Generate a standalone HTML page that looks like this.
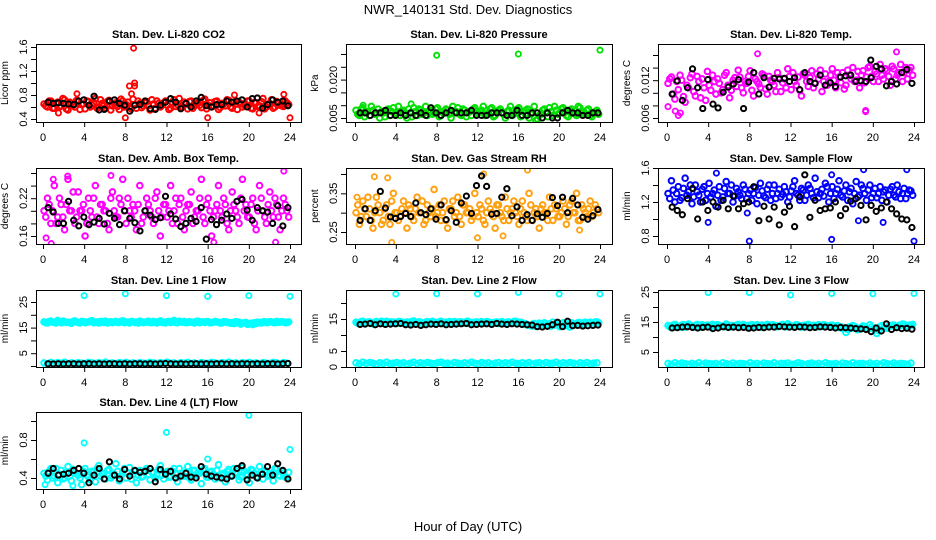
<!DOCTYPE html>
<html><head><meta charset="utf-8">
<style>
html,body{margin:0;padding:0;background:#fff;}
svg{display:block;font-family:"Liberation Sans",Arial,sans-serif;}
</style></head>
<body>
<svg id="chart" width="936" height="540" viewBox="0 0 936 540" xmlns="http://www.w3.org/2000/svg">
<rect x="0" y="0" width="936" height="540" fill="#fff"/>
<text x="468" y="14" text-anchor="middle" font-size="13">NWR_140131  Std. Dev. Diagnostics</text>
<text x="468" y="531" text-anchor="middle" font-size="13">Hour of Day (UTC)</text>
</svg>
<script>
// ---- data ----
const xTicks = [0,4,8,12,16,20,24];
const panelTitles = ["Stan. Dev. Li-820 CO2","Stan. Dev. Li-820 Pressure","Stan. Dev. Li-820 Temp.","Stan. Dev. Amb. Box Temp.","Stan. Dev. Gas Stream RH","Stan. Dev. Sample Flow","Stan. Dev. Line 1 Flow","Stan. Dev. Line 2 Flow","Stan. Dev. Line 3 Flow","Stan. Dev. Line 4 (LT) Flow"];
const yTitles = ["Licor ppm","kPa","degrees C","degrees C","percent","ml/min","ml/min","ml/min","ml/min","ml/min"];
const yTickVals = [[0.4,0.6,0.8,1.0,1.2,1.4,1.6],[0.005,0.010,0.015,0.020,0.025,0.030],[0.006,0.008,0.010,0.012,0.014,0.016],[0.16,0.18,0.20,0.22,0.24,0.26],[0.25,0.30,0.35,0.40],[0.8,1.0,1.2,1.4,1.6],[0,5,10,15,20,25],[0,5,10,15,20],[5,10,15,20,25],[0.4,0.6,0.8,1.0]];
const yTickLabels = [["0.4","0.8","1.2","1.6"],["0.005","0.020"],["0.006","0.012"],["0.16","0.22"],["0.25","0.35"],["0.8","1.2","1.6"],["5","15","25"],["0","5","15"],["5","15","25"],["0.4","0.8"]];
const yLabelVals = [[0.4,0.8,1.2,1.6],[0.005,0.020],[0.006,0.012],[0.16,0.22],[0.25,0.35],[0.8,1.2,1.6],[5,15,25],[0,5,15],[5,15,25],[0.4,0.8]];
const seriesColors = ["#ff0000","#00e000","#ff00ff","#ff00ff","#ffa010","#0000ff","#00ffff","#00ffff","#00ffff","#00ffff"];

const co2Main = [0.65,0.6,0.7,0.58,0.68,0.62,0.72,0.55,0.66,0.6,0.7,0.64,0.57,0.69,0.63,0.74,0.6,0.66,0.58,0.71,0.62,0.67,0.56,0.7,0.64,0.6,0.73,0.58,0.66,0.62,0.69,0.55,0.65,0.7,0.6,0.67,0.63,0.58,0.72,0.64,0.6,0.68,0.57,0.7,0.62,0.66,0.59,0.73,0.63,0.6,0.69,0.56,0.66,0.62,0.71,0.58,0.65,0.68,0.6,0.64,0.7,0.57,0.67,0.62,0.74,0.6,0.66,0.58,0.69,0.63,0.61,0.67];
const co2MainB = [0.62,0.7,0.58,0.66,0.6,0.74,0.57,0.68,0.63,0.71,0.56,0.65,0.7,0.6,0.67,0.58,0.72,0.62,0.69,0.55,0.66,0.61,0.73,0.6,0.68,0.57,0.64,0.7,0.59,0.67,0.62,0.72,0.58,0.66,0.63,0.7,0.56,0.68,0.61,0.74,0.6,0.65,0.69,0.58,0.66,0.63,0.71,0.57,0.67,0.62,0.7,0.59,0.65,0.72,0.6,0.68,0.56,0.66,0.63,0.7,0.58,0.67,0.61,0.69,0.57,0.65,0.72,0.6,0.66,0.62,0.7,0.64];
const co2Out = [[8,0.42],[8.6,0.82],[8.4,0.95],[8.9,1.0],[8.9,0.95],[8.8,1.58],[3.3,0.82],[16,0.42],[24,0.42],[21,0.5],[1.5,0.5],[23.4,0.81],[18.6,0.8]];
const co2Black = [0.68,0.66,0.67,0.66,0.65,0.64,0.7,0.72,0.63,0.78,0.55,0.56,0.7,0.72,0.66,0.63,0.53,0.63,0.64,0.7,0.57,0.56,0.63,0.68,0.74,0.68,0.57,0.66,0.6,0.7,0.76,0.62,0.6,0.64,0.64,0.7,0.68,0.7,0.72,0.6,0.74,0.75,0.58,0.64,0.72,0.68,0.7,0.62];

const presMain = [0.008,0.006,0.009,0.007,0.006,0.008,0.007,0.005,0.007,0.008,0.006,0.009,0.007,0.006,0.008,0.005,0.007,0.009,0.006,0.008,0.007,0.006,0.008,0.007,0.009,0.006,0.007,0.008,0.005,0.007,0.009,0.006,0.008,0.007,0.006,0.009,0.007,0.008,0.006,0.007,0.009,0.006,0.008,0.007,0.005,0.008,0.006,0.007,0.009,0.006,0.008,0.005,0.007,0.004,0.006,0.008,0.007,0.009,0.006,0.008,0.007,0.009,0.006,0.008,0.007,0.006,0.009,0.007,0.008,0.006,0.007,0.008];
const presMainB = [0.0065,0.0085,0.0055,0.0075,0.0095,0.0065,0.0085,0.0075,0.0055,0.0085,0.0075,0.0065,0.0095,0.0075,0.0065,0.0085,0.0055,0.0075,0.0085,0.0065,0.0095,0.0075,0.0065,0.0085,0.0055,0.0075,0.0085,0.0065,0.0095,0.0075,0.0065,0.0085,0.0055,0.0075,0.0085,0.0065,0.0075,0.0095,0.0065,0.0085,0.0055,0.0075,0.0085,0.0065,0.0075,0.0095,0.0065,0.0085,0.0055,0.0075,0.0085,0.0065,0.0095,0.0045,0.0065,0.0085,0.0055,0.0075,0.0095,0.0065,0.0085,0.0075,0.0055,0.0085,0.0065,0.0095,0.0075,0.0065,0.0085,0.0055,0.0075,0.0065];
const presOut = [[8,0.0295],[16,0.0300],[24,0.0315],[5.5,0.0105],[0.8,0.0100]];
const presBlack = [0.007,0.007,0.006,0.007,0.007,0.008,0.006,0.006,0.007,0.006,0.007,0.006,0.007,0.006,0.009,0.007,0.006,0.007,0.008,0.007,0.007,0.007,0.008,0.006,0.006,0.006,0.007,0.007,0.007,0.006,0.006,0.008,0.006,0.006,0.007,0.007,0.005,0.007,0.005,0.005,0.007,0.008,0.007,0.007,0.006,0.006,0.007,0.007];

const tempMain = [0.0115,0.0125,0.009,0.0105,0.012,0.0085,0.0108,0.013,0.0095,0.0118,0.0122,0.0088,0.0112,0.0128,0.0098,0.0115,0.0105,0.0132,0.0092,0.012,0.011,0.0125,0.01,0.0115,0.0135,0.0095,0.0118,0.0108,0.0128,0.0098,0.012,0.0112,0.0132,0.0102,0.0122,0.0138,0.0105,0.0118,0.0125,0.0095,0.0128,0.011,0.0135,0.0115,0.0122,0.0102,0.013,0.0118,0.0138,0.0108,0.0125,0.0132,0.0112,0.0128,0.014,0.012,0.0108,0.0135,0.0125,0.0142,0.0118,0.013,0.0145,0.0122,0.0135,0.0112,0.0138,0.0128,0.0145,0.0132,0.0122,0.014];
const tempMainB = [0.0122,0.0098,0.0118,0.0128,0.0094,0.0112,0.0124,0.0102,0.0126,0.0092,0.0108,0.0134,0.0104,0.0118,0.0122,0.01,0.0128,0.0112,0.0104,0.0124,0.0136,0.0108,0.0118,0.0126,0.0104,0.0122,0.0114,0.013,0.0106,0.0126,0.0118,0.0102,0.0124,0.0116,0.0108,0.0126,0.0132,0.0112,0.0104,0.013,0.0118,0.0124,0.0108,0.013,0.0136,0.0118,0.0112,0.0128,0.012,0.0132,0.0116,0.0106,0.0136,0.0122,0.0118,0.0134,0.0128,0.0116,0.014,0.0126,0.0134,0.0118,0.0128,0.0138,0.0126,0.0142,0.0122,0.0132,0.0118,0.014,0.0136,0.0128];
const tempOut = [[0.1,0.0078],[0.8,0.0071],[1.1,0.0064],[1.3,0.0068],[8.8,0.0162],[22.3,0.0165],[19.3,0.0072],[19.3,0.0070]];
const tempBlack = [0.0098,0.0119,0.0088,0.0108,0.0138,0.0108,0.0075,0.0121,0.0082,0.0076,0.0101,0.0109,0.0114,0.0121,0.0075,0.0117,0.0132,0.0098,0.0124,0.0109,0.0123,0.0122,0.0123,0.0118,0.0124,0.0105,0.0132,0.0118,0.0115,0.0128,0.0112,0.0116,0.011,0.0125,0.0127,0.0128,0.0118,0.0119,0.0118,0.0124,0.0142,0.0138,0.0111,0.0118,0.0114,0.0132,0.0137,0.0115];

const boxMain = [0.2,0.22,0.18,0.24,0.19,0.21,0.17,0.25,0.2,0.18,0.23,0.2,0.16,0.22,0.19,0.24,0.18,0.21,0.2,0.17,0.23,0.19,0.22,0.25,0.18,0.2,0.21,0.17,0.24,0.19,0.22,0.2,0.18,0.23,0.16,0.21,0.19,0.24,0.2,0.18,0.22,0.17,0.21,0.23,0.19,0.2,0.25,0.18,0.22,0.16,0.2,0.24,0.19,0.21,0.17,0.23,0.2,0.18,0.25,0.21,0.19,0.22,0.17,0.24,0.2,0.18,0.23,0.19,0.21,0.17,0.22,0.2];
const boxMainB = [0.19,0.21,0.2,0.18,0.22,0.19,0.21,0.2,0.23,0.19,0.2,0.21,0.18,0.2,0.22,0.19,0.21,0.2,0.18,0.22,0.2,0.19,0.21,0.2,0.22,0.19,0.2,0.21,0.18,0.2,0.21,0.19,0.22,0.2,0.19,0.21,0.2,0.18,0.22,0.21,0.19,0.2,0.21,0.18,0.2,0.22,0.19,0.21,0.2,0.19,0.21,0.2,0.22,0.18,0.2,0.21,0.19,0.22,0.2,0.19,0.21,0.18,0.2,0.22,0.19,0.21,0.2,0.22,0.19,0.2,0.21,0.19];
const boxOut = [[0.3,0.157],[1,0.25],[2.4,0.255],[6.6,0.256],[23.4,0.263],[0.8,0.148],[16.6,0.15],[22.6,0.15]];
const boxBlack = [0.205,0.198,0.18,0.18,0.215,0.185,0.176,0.19,0.178,0.182,0.188,0.179,0.196,0.188,0.178,0.2,0.188,0.181,0.168,0.2,0.193,0.186,0.189,0.223,0.195,0.187,0.175,0.18,0.188,0.183,0.205,0.155,0.186,0.178,0.185,0.195,0.188,0.215,0.218,0.201,0.185,0.205,0.2,0.198,0.18,0.208,0.176,0.205];

const rhMain = [0.3,0.27,0.33,0.29,0.31,0.26,0.34,0.3,0.28,0.32,0.27,0.35,0.3,0.29,0.33,0.26,0.31,0.28,0.34,0.3,0.27,0.32,0.29,0.36,0.3,0.28,0.33,0.26,0.31,0.29,0.34,0.27,0.32,0.3,0.28,0.35,0.29,0.31,0.27,0.33,0.3,0.26,0.32,0.29,0.34,0.28,0.31,0.3,0.27,0.33,0.29,0.35,0.28,0.31,0.26,0.32,0.3,0.34,0.28,0.31,0.29,0.33,0.27,0.32,0.3,0.35,0.28,0.31,0.29,0.33,0.3,0.31];
const rhMainB = [0.32,0.29,0.31,0.34,0.28,0.3,0.32,0.27,0.31,0.29,0.33,0.3,0.28,0.31,0.3,0.32,0.29,0.31,0.3,0.33,0.28,0.3,0.31,0.29,0.32,0.3,0.28,0.31,0.33,0.3,0.29,0.32,0.3,0.31,0.29,0.3,0.32,0.28,0.3,0.31,0.29,0.32,0.3,0.28,0.31,0.3,0.33,0.29,0.31,0.3,0.28,0.32,0.3,0.29,0.31,0.3,0.28,0.31,0.32,0.29,0.3,0.31,0.29,0.33,0.3,0.28,0.32,0.3,0.31,0.29,0.32,0.3];
const rhOut = [[1.9,0.393],[3.2,0.39],[3.6,0.223],[12.6,0.4],[16.9,0.41],[12,0.235],[14.5,0.24],[0.2,0.34],[22,0.255]];
const rhBlack = [0.28,0.31,0.28,0.305,0.355,0.312,0.289,0.285,0.29,0.298,0.29,0.325,0.3,0.295,0.31,0.283,0.32,0.282,0.305,0.275,0.325,0.343,0.298,0.37,0.395,0.368,0.296,0.298,0.34,0.362,0.292,0.315,0.28,0.295,0.28,0.297,0.288,0.298,0.339,0.318,0.34,0.3,0.337,0.32,0.288,0.283,0.292,0.308];

const flowMain = [1.3,1.45,1.2,1.38,1.25,1.48,1.32,1.18,1.4,1.28,1.35,1.22,1.42,1.3,1.15,1.38,1.26,1.44,1.3,1.2,1.36,1.28,1.4,1.24,1.34,1.3,1.18,1.42,1.27,1.35,1.22,1.4,1.3,1.26,1.38,1.2,1.33,1.45,1.28,1.36,1.22,1.4,1.3,1.48,1.25,1.35,1.42,1.2,1.38,1.3,1.45,1.26,1.4,1.32,1.18,1.44,1.28,1.36,1.22,1.4,1.3,1.25,1.38,1.32,1.2,1.35,1.28,1.4,1.24,1.36,1.3,1.33];
const flowMainB = [1.24,1.34,1.3,1.22,1.36,1.28,1.4,1.26,1.32,1.2,1.38,1.3,1.26,1.34,1.28,1.22,1.36,1.3,1.4,1.27,1.32,1.24,1.35,1.3,1.22,1.37,1.28,1.33,1.25,1.4,1.3,1.24,1.35,1.29,1.32,1.26,1.38,1.3,1.22,1.34,1.28,1.36,1.25,1.32,1.3,1.27,1.38,1.3,1.24,1.35,1.28,1.33,1.22,1.36,1.3,1.26,1.4,1.3,1.34,1.25,1.36,1.3,1.22,1.34,1.28,1.38,1.26,1.32,1.3,1.24,1.34,1.28];
const flowOut = [[8,0.74],[16,0.76],[24,0.74],[4,0.96],[21,0.96],[18.6,0.98],[23.3,1.58],[4.8,1.54],[16,1.52],[19.1,1.58],[7.8,1.07]];
const flowBlack = [1.14,1.1,1.05,1.24,1.36,1.0,1.2,1.1,1.2,1.14,1.22,1.12,1.27,1.12,1.18,1.2,1.38,0.98,1.15,1.0,1.14,0.93,1.08,1.15,0.91,1.26,1.52,1.02,1.22,1.1,1.12,1.13,1.2,1.04,1.12,1.21,1.24,1.16,0.99,1.16,1.09,1.13,1.2,1.12,1.06,1.0,0.99,0.9];

const l1High = [17.2,16.8,17.5,17.0,17.8,16.9,17.3,17.1,16.7,17.6,17.0,17.4,16.9,17.2,17.7,17.0,16.8,17.3,17.5,17.1,16.9,17.4,17.0,17.6,17.2,16.8,17.3,17.1,17.5,16.9,17.2,17.0,17.4,16.8,17.6,17.1,17.3,17.0,17.8,16.9,17.2,17.4,17.0,17.1,16.8,17.5,17.2,17.0,17.3,16.9,17.4,17.1,16.8,17.2,17.0,16.9,17.3,17.1,16.8,17.0,16.5,16.2,16.6,17.0,17.2,16.9,17.3,17.0,17.4,17.1,17.2,17.0];
const l1HighB = [16.9,17.4,17.1,16.8,17.3,17.5,17.0,16.9,17.4,17.2,16.8,17.3,17.1,17.5,16.9,17.2,17.4,17.0,16.8,17.3,17.2,17.0,17.5,16.9,17.1,17.4,17.0,16.8,17.3,17.1,17.5,16.9,17.2,17.3,17.0,16.8,17.4,17.2,17.0,17.5,17.1,16.9,17.3,17.0,17.4,16.9,17.2,17.3,16.9,17.1,17.2,16.8,17.3,17.0,16.7,16.6,16.9,16.4,16.8,16.3,16.7,16.9,17.1,16.8,17.3,17.0,17.2,16.9,17.1,17.3,16.9,17.2];
const l1Low = [1.2,0.9,1.4,1.0,1.3,1.1,1.5,0.9,1.2,1.0,1.3,1.1,0.9,1.4,1.2,1.0,1.3,1.1,1.5,1.0,1.2,0.9,1.3,1.1,1.4,1.0,1.2,0.9,1.3,1.1,1.0,1.4,1.2,0.9,1.3,1.1,1.5,1.0,1.2,0.9,1.3,1.1,1.4,1.0,1.2,0.9,1.3,1.1,1.0,1.4,1.2,0.9,1.3,1.1,1.5,1.0,1.2,0.9,1.3,1.1,1.4,1.0,1.2,0.9,1.3,1.1,1.0,1.4,1.2,0.9,1.3,1.1];
const l1Out = [[4,27.5],[8,28.2],[12,27.5],[16,27.2],[20,27.5],[24,27.2]];
const l1Black = [0.9,0.8,0.9,0.8,0.9,0.9,0.8,0.9,0.9,0.8,0.9,0.8,0.9,0.9,0.8,0.9,0.8,0.9,0.9,0.8,0.9,0.8,0.9,1.0,0.9,0.8,0.9,0.8,0.9,0.9,0.8,0.9,0.8,0.9,0.9,0.8,0.9,0.8,0.9,0.9,0.8,0.9,0.8,0.9,0.9,0.8,0.9,1.0];

const l2High = [14.0,13.6,14.3,13.8,14.1,13.5,14.2,13.9,13.7,14.3,13.8,14.0,13.6,14.2,13.9,14.1,13.7,14.4,13.8,14.0,13.6,14.2,13.9,14.1,13.8,14.3,13.7,14.0,13.9,14.2,13.6,14.1,13.8,14.3,13.9,14.0,13.7,14.2,13.8,14.1,13.9,14.0,13.6,14.2,13.8,14.1,13.7,14.3,13.9,13.8,13.5,13.2,12.8,13.4,13.7,13.3,12.9,13.5,14.0,13.2,12.6,13.8,13.0,12.5,13.3,13.6,13.9,13.4,13.7,14.0,13.8,14.1];
const l2HighB = [13.7,14.2,13.9,14.1,13.6,14.0,13.8,14.3,13.9,13.7,14.1,13.8,14.2,13.9,13.6,14.0,14.2,13.8,14.1,13.7,14.0,13.9,14.3,13.8,14.1,13.6,14.0,14.2,13.8,13.9,14.1,13.7,14.2,13.9,13.8,14.1,14.0,13.7,14.2,13.9,13.8,14.1,13.9,13.7,14.0,13.8,14.2,13.6,14.0,13.4,13.1,12.9,13.6,12.7,13.2,13.8,13.4,12.8,13.1,13.7,13.3,12.9,13.5,13.8,13.2,13.9,13.6,14.0,13.8,13.9,14.1,13.8];
const l2Low = [1.3,1.0,1.5,1.1,1.4,1.2,0.9,1.3,1.1,1.5,1.0,1.2,1.4,1.1,1.3,0.9,1.2,1.5,1.0,1.3,1.1,1.4,1.2,1.0,1.3,1.5,1.1,1.2,0.9,1.4,1.2,1.0,1.3,1.1,1.5,1.2,1.0,1.4,1.1,1.3,0.9,1.2,1.4,1.0,1.3,1.1,1.5,1.2,1.0,1.3,1.1,1.4,0.9,1.2,1.3,1.0,1.4,1.1,1.2,1.5,1.0,1.3,1.1,1.4,1.2,0.9,1.3,1.1,1.4,1.0,1.2,1.3];
const l2Out = [[4,22.8],[8,22.9],[12,22.8],[16,23.3],[20,22.8],[24,22.8]];
const l2Black = [13.3,13.4,13.6,13.2,13.5,13.3,13.4,13.5,13.6,13.2,13.1,13.3,13.0,13.2,13.4,13.3,13.5,13.2,13.3,13.4,13.5,13.6,13.2,13.3,13.4,13.5,13.3,13.6,13.4,13.3,13.5,13.4,13.3,13.2,13.1,12.6,12.5,12.7,13.2,14.0,12.6,14.3,12.9,13.0,12.8,12.9,13.0,13.1];

const l3High = [13.8,13.2,14.2,13.5,14.0,13.3,14.3,13.6,13.9,13.2,14.1,13.5,13.8,14.2,13.4,13.9,13.6,14.3,13.3,13.8,14.0,13.5,14.2,13.7,13.4,13.9,14.1,13.3,13.8,14.2,13.6,13.9,13.4,14.0,13.7,14.4,13.5,13.8,14.0,13.3,13.9,14.2,13.6,13.8,14.1,13.5,13.9,13.7,14.0,13.5,13.2,12.8,11.5,13.4,13.8,13.1,12.6,13.7,12.9,14.1,12.8,11.2,13.5,13.1,12.9,13.6,14.0,13.3,13.8,14.2,13.5,13.9];
const l3HighB = [13.4,14.0,13.7,13.3,14.1,13.6,13.9,13.4,14.2,13.7,13.5,14.0,13.3,13.8,14.1,13.6,13.4,14.0,13.8,13.5,14.2,13.7,13.4,13.9,14.1,13.6,13.3,14.0,13.7,13.5,14.1,13.8,13.6,14.2,13.4,13.9,13.7,14.1,13.5,13.8,14.0,13.6,13.9,13.4,13.7,14.1,13.6,13.9,13.5,13.8,13.4,13.0,12.5,12.9,13.6,12.4,13.2,13.5,12.7,13.4,13.0,12.2,13.8,13.2,13.6,14.0,13.5,13.9,14.3,13.7,14.0,14.2];
const l3Low = [1.2,0.9,1.4,1.0,1.3,1.1,0.8,1.2,1.0,1.4,0.9,1.3,1.1,1.0,1.2,0.8,1.4,1.1,0.9,1.3,1.0,1.2,1.1,0.9,1.4,1.0,1.2,0.8,1.3,1.1,1.0,1.4,0.9,1.2,1.1,1.3,0.9,1.0,1.4,1.2,0.8,1.1,1.3,1.0,1.2,0.9,1.4,1.1,1.0,1.2,0.8,1.3,1.1,0.9,1.4,1.0,1.2,1.1,0.9,1.3,1.0,1.2,0.8,1.4,1.1,0.9,1.3,1.0,1.2,1.1,0.9,1.3];
const l3Out = [[4,24.8],[8,24.8],[12,24.0],[16,24.5],[20,24.4],[24,24.5]];
const l3Black = [13.0,13.1,13.3,13.4,13.2,13.0,13.2,13.3,12.8,13.0,13.4,13.2,13.3,13.1,13.2,12.9,13.0,13.2,13.1,13.3,13.3,13.5,13.4,13.3,13.2,13.4,13.3,13.1,13.2,13.4,13.3,13.2,13.0,13.2,13.1,13.0,12.8,12.7,12.5,11.8,13.0,12.0,14.4,12.5,13.1,12.8,12.9,12.6];

const l4Main = [0.45,0.38,0.5,0.42,0.35,0.48,0.4,0.52,0.37,0.46,0.43,0.33,0.5,0.41,0.47,0.36,0.53,0.44,0.39,0.49,0.42,0.55,0.37,0.46,0.4,0.51,0.44,0.35,0.48,0.42,0.5,0.38,0.46,0.43,0.53,0.39,0.47,0.41,0.5,0.36,0.45,0.42,0.52,0.38,0.48,0.44,0.34,0.5,0.41,0.47,0.39,0.54,0.43,0.36,0.49,0.42,0.46,0.38,0.51,0.44,0.35,0.48,0.41,0.52,0.39,0.46,0.43,0.37,0.5,0.42,0.45,0.4];
const l4MainB = [0.42,0.47,0.4,0.5,0.44,0.39,0.46,0.42,0.49,0.44,0.4,0.47,0.43,0.38,0.46,0.5,0.42,0.45,0.48,0.4,0.44,0.47,0.42,0.5,0.45,0.39,0.47,0.43,0.41,0.48,0.44,0.46,0.4,0.49,0.43,0.45,0.41,0.47,0.44,0.5,0.42,0.46,0.4,0.48,0.43,0.45,0.49,0.41,0.46,0.44,0.48,0.4,0.45,0.47,0.42,0.5,0.44,0.41,0.47,0.43,0.49,0.45,0.4,0.46,0.48,0.42,0.45,0.5,0.43,0.47,0.41,0.46];
const l4Out = [[4,0.77],[12,0.88],[20,1.06],[24,0.7],[0.2,0.33],[2.9,0.32],[16,0.6]];
const l4Black = [0.45,0.5,0.43,0.44,0.45,0.48,0.5,0.45,0.35,0.43,0.5,0.39,0.57,0.43,0.39,0.49,0.42,0.48,0.46,0.47,0.5,0.36,0.49,0.44,0.47,0.4,0.42,0.45,0.41,0.4,0.52,0.44,0.42,0.41,0.4,0.39,0.42,0.5,0.53,0.38,0.43,0.4,0.44,0.52,0.43,0.55,0.48,0.39];

// ---- layout ----
const cols = [{l:36,r:301,x0:43,x24:290},{l:346,r:612,x0:355,x24:600},{l:658,r:924,x0:667,x24:914}];
const rows = [{t:44,b:122},{t:168,b:244},{t:290,b:367},{t:412,b:489}];
const yMaps = [[0.4,119,1.6,47],[0.005,118,0.030,54],[0.006,118,0.016,55],[0.16,236,0.26,173],[0.25,232,0.40,174],[0.8,236,1.6,168],[0,366,25,302],[0,367,20,303],[5,352,25,292],[0.4,478,1.0,421]];

const panels = [
 {main:[co2Main,co2MainB],out:co2Out,black:co2Black,bout:[]},
 {main:[presMain,presMainB],out:presOut,black:presBlack,bout:[]},
 {main:[tempMain,tempMainB],out:tempOut,black:tempBlack,bout:[[19.8,0.0152]]},
 {main:[boxMain,boxMainB],out:boxOut,black:boxBlack,bout:[]},
 {main:[rhMain,rhMainB],out:rhOut,black:rhBlack,bout:[]},
 {main:[flowMain,flowMainB],out:flowOut,black:flowBlack,bout:[]},
 {main:[l1High,l1HighB,l1Low],out:l1Out,black:l1Black,bout:[]},
 {main:[l2High,l2HighB,l2Low],out:l2Out,black:l2Black,bout:[]},
 {main:[l3High,l3HighB,l3Low],out:l3Out,black:l3Black,bout:[]},
 {main:[l4Main,l4MainB],out:l4Out,black:l4Black,bout:[]}
];

const NS = "http://www.w3.org/2000/svg";
const svg = document.getElementById("chart");
function mk(tag, attrs, parent){
  const e = document.createElementNS(NS, tag);
  for (const k in attrs) e.setAttribute(k, attrs[k]);
  parent.appendChild(e);
  return e;
}

panels.forEach((p, i) => {
  const c = cols[i % 3], r = rows[Math.floor(i / 3)];
  const m = yMaps[i];
  const xs = h => c.x0 + (c.x24 - c.x0) * h / 24;
  const ys = v => m[1] + (v - m[0]) * (m[3] - m[1]) / (m[2] - m[0]);
  const g = mk("g", {}, svg);
  
  

  const title = mk("text", {x:(c.l + c.r) / 2, y:r.t - 6, "text-anchor":"middle", "font-size":"11", "font-weight":"bold"}, g);
  title.textContent = panelTitles[i];
  
  

  const cx = c.l - 28, cy = (r.t + r.b) / 2;
  const yt = mk("text", {x:cx, y:cy, "text-anchor":"middle", "font-size":"10", transform:"rotate(-90 " + cx + " " + cy + ")"}, g);
  yt.textContent = yTitles[i];
  
  

  const clipId = "clip" + i;
  const cp = mk("clipPath", {id:clipId}, g);
  mk("rect", {x:c.l, y:r.t, width:c.r - c.l, height:r.b - r.t}, cp);
  const pts = mk("g", {"clip-path":"url(#" + clipId + ")"}, g);
  
  
  const col = seriesColors[i];
  p.main.forEach((arr, si) => {
    const off = si % 2 === 1 ? 0.17 : 0;
    arr.forEach((v, k) => {
      const h = 0.1 + off + k * 23.6 / (arr.length - 1);
      const pt = mk("circle", {cx:xs(h), cy:ys(v), r:2.8, fill:"none", stroke:col, "stroke-width":2}, pts);
      
      
    });
  });
  p.out.forEach(o => {
    const pt = mk("circle", {cx:xs(o[0]), cy:ys(o[1]), r:2.6, fill:"none", stroke:col, "stroke-width":1.8}, pts);
    
    
  });
  p.black.forEach((v, k) => {
    const h = 0.5 + k * 23.3 / (p.black.length - 1);
    const pt = mk("circle", {cx:xs(h), cy:ys(v), r:2.6, fill:"none", stroke:"#000", "stroke-width":2}, pts);
    
    
  });
  p.bout.forEach(o => {
    const pt = mk("circle", {cx:xs(o[0]), cy:ys(o[1]), r:2.6, fill:"none", stroke:"#000", "stroke-width":2}, pts);
    
    
  });

  const box = mk("rect", {x:c.l + 0.5, y:r.t + 0.5, width:c.r - c.l, height:r.b - r.t, fill:"none", stroke:"#000", "stroke-width":1}, g);
  
  

  const xa = mk("g", {}, g);
  
  
  mk("line", {x1:xs(0), x2:xs(24), y1:r.b + 0.5, y2:r.b + 0.5, stroke:"#000"}, xa);
  xTicks.forEach(t => {
    mk("line", {x1:xs(t) + 0.5, x2:xs(t) + 0.5, y1:r.b, y2:r.b + 5, stroke:"#000"}, xa);
    const lb = mk("text", {x:xs(t), y:r.b + 19, "text-anchor":"middle", "font-size":"11"}, xa);
    lb.textContent = String(t);
    
    
  });

  const ya = mk("g", {}, g);
  
  
  const tv = yTickVals[i];
  mk("line", {x1:c.l + 0.5, x2:c.l + 0.5, y1:ys(tv[0]), y2:ys(tv[tv.length - 1]), stroke:"#000"}, ya);
  tv.forEach(t => {
    mk("line", {x1:c.l - 5, x2:c.l, y1:ys(t) + 0.5, y2:ys(t) + 0.5, stroke:"#000"}, ya);
  });
  yLabelVals[i].forEach((t, k) => {
    const lx = c.l - 9, ly = ys(t);
    const lb = mk("text", {x:lx, y:ly, "text-anchor":"middle", "font-size":"11", transform:"rotate(-90 " + lx + " " + ly + ")"}, ya);
    lb.textContent = yTickLabels[i][k];
    
    
  });
});
</script>
</body></html>
